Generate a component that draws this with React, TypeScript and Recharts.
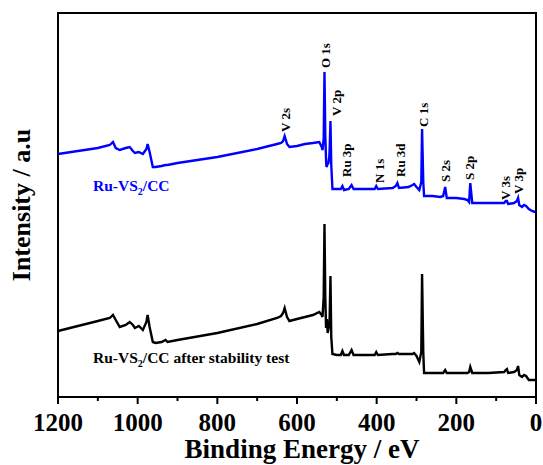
import React from "react";
import { LineChart, Line, XAxis, YAxis, ReferenceDot, ReferenceArea } from "recharts";

const energy = [1200,1150,1100,1070,1062,1055,1045,1030,1020,1012,1007,997,987,978,975,970,962,955,940,930,925,900,800,700,650,640,635,631,625,619,600,580,560,544,538,536,533,531,529,527,526,525,523,521,519,518,516,514,511,500,490,486,482,470,463,458,430,405,401,397,360,352,348,344,320,310,306,300,293,288,286,283,281,260,240,233,228,224,200,180,172,168,165,160,120,80,76,73,70,55,48,45,42,35,30,25,18,10,2];

const freshIntensity = [243,246,249,252,255,249,247,249,250,246,244,245,243,248,253,245,230,230,231,232,232,234,240,248,253,254,256,261,253,250,251,253,254,255,250,247,258,325,262,236,230,231,233,234,240,248,276,232,208,208,208,211,207,208,212,208,208,208,211,208,209,211,214,209,210,212,213,210,207,215,268,215,201,201,200,201,210,199,199,198,197,195,214,194,194,194,196,196,193,194,196,199,192,190,192,191,188,186,185];

const stableIntensity = [66,71,76,79,82,77,70,72,75,72,69,71,67,75,82,70,55,54,55,57,55,57,64,73,79,81,84,89,80,76,78,80,82,85,82,80,100,173,100,69,73,78,64,68,72,80,121,60,43,42,42,46,42,42,47,42,42,42,45,42,43,43,44,43,43,43,44,41,35,45,123,45,24,24,24,24,27,24,24,24,24,25,30,24,24,25,27,28,24,25,27,31,22,20,22,21,17,17,17];

const xTicks = [0,100,200,300,400,500,600,700,800,900,1000,1100,1200];

const peakNames = ["V 2s","O 1s","V 2p","Ru 3p","N 1s","Ru 3d","C 1s","S 2s","S 2p","V 3s","V 3p"];
const peakEnergy = [630,529,502,475,394,340,283,226,166,77,43];
const peakLabelBase = [265,329,281,220,214,220,270,215,217,197,203];

const seriesNames = ["Ru-VS", "Ru-VS"];
const seriesSuffix = ["/CC", "/CC after stability test"];
const seriesLabelEnergy = [1112, 1112];
const seriesLabelBase = [206, 34];

const data = energy.map((e, i) => ({ energy: e, fresh: freshIntensity[i], stable: stableIntensity[i] }));

const FONT = "'Liberation Serif', 'Times New Roman', serif";
const BLUE = "#0000ff";

const XTick = (props: any) => {
  const { x, y, payload } = props;
  const major = payload.value % 200 === 0;
  return (
    <g>
      <line x1={x} x2={x} y1={y} y2={y + (major ? 7 : 4)} stroke="#000" strokeWidth={2} />
      {major && (
        <text x={x} y={y + 34} textAnchor="middle" fontFamily={FONT} fontWeight="bold" fontSize={25} fill="#000">
          {payload.value}
        </text>
      )}
    </g>
  );
};

const peakLabel = (text: string) => (props: any) => {
  const { x, y } = props.viewBox;
  return (
    <text
      x={x}
      y={y}
      transform={`rotate(-90 ${x} ${y})`}
      textAnchor="start"
      dominantBaseline="central"
      fontFamily={FONT}
      fontWeight="bold"
      fontSize={13}
      fill="#000"
    >
      {text}
    </text>
  );
};

const seriesLabel = (name: string, suffix: string, color: string) => (props: any) => {
  const { x, y } = props.viewBox;
  return (
    <text x={x} y={y} fontFamily={FONT} fontWeight="bold" fontSize={15.5} fill={color}>
      <tspan>{name}</tspan>
      <tspan fontSize={10} dy={4}>2</tspan>
      <tspan dy={-4}>{suffix}</tspan>
    </text>
  );
};

function XTitle(props: any) {
  const { x, y, width } = props.viewBox;
  return (
    <text x={x + width / 2 + 5} y={y + 61} textAnchor="middle" fontFamily={FONT} fontWeight="bold" fontSize={27} fill="#000">
      Binding Energy / eV
    </text>
  );
}

function YTitle(props: any) {
  const { x, y, height } = props.viewBox;
  const cx = x + 21;
  const cy = y + height / 2;
  return (
    <text
      x={cx}
      y={cy}
      transform={`rotate(-90 ${cx} ${cy})`}
      textAnchor="middle"
      dominantBaseline="central"
      fontFamily={FONT}
      fontWeight="bold"
      fontSize={26}
      fill="#000"
    >
      Intensity / a.u
    </text>
  );
}

export default function App() {
  return (
    <div style={{ position: "absolute", left: 0, top: 0, background: "#fff" }}>
      <LineChart width={543} height={465} data={data} margin={{ top: 13, right: 7, left: 0, bottom: 0 }}>
        <XAxis
          dataKey="energy"
          type="number"
          domain={[0, 1200]}
          reversed
          ticks={xTicks}
          interval={0}
          height={68}
          tickSize={0}
          tickMargin={0}
          tickLine={false}
          tick={<XTick />}
          axisLine={{ stroke: "#000", strokeWidth: 2 }}
          label={<XTitle />}
        />
        <YAxis
          type="number"
          domain={[0, 384]}
          width={58}
          tick={false}
          tickLine={false}
          axisLine={false}
          label={<YTitle />}
        />
        <ReferenceArea x1={0} x2={1200} y1={0} y2={384} fill="none" stroke="#000" strokeWidth={2} fillOpacity={0} />
        <Line type="linear" dataKey="stable" stroke="#000" strokeWidth={2.4} dot={false} isAnimationActive={false} />
        <Line type="linear" dataKey="fresh" stroke={BLUE} strokeWidth={2.4} dot={false} isAnimationActive={false} />
        {peakNames.map((n, i) => (
          <ReferenceDot key={n} x={peakEnergy[i]} y={peakLabelBase[i]} r={0} stroke="none" fill="none" label={{ content: peakLabel(n) } as any} />
        ))}
        {seriesNames.map((n, i) => (
          <ReferenceDot
            key={"s" + i}
            x={seriesLabelEnergy[i]}
            y={seriesLabelBase[i]}
            r={0}
            stroke="none"
            fill="none"
            label={{ content: seriesLabel(n, seriesSuffix[i], i === 0 ? BLUE : "#000") } as any}
          />
        ))}
      </LineChart>
    </div>
  );
}
